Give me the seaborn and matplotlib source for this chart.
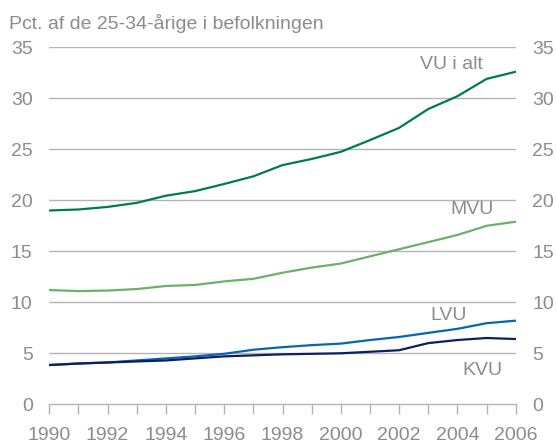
import matplotlib
matplotlib.use("Agg")
import matplotlib.pyplot as plt
import seaborn as sns
import pandas as pd
import numpy as np

years = list(range(1990, 2007))
vu_i_alt = [19.0, 19.1, 19.35, 19.75, 20.45, 20.9, 21.6, 22.35, 23.45, 24.05, 24.75, 25.9, 27.1, 28.95, 30.2, 31.9, 32.6]
mvu = [11.2, 11.1, 11.15, 11.3, 11.6, 11.7, 12.05, 12.3, 12.9, 13.4, 13.8, 14.5, 15.2, 15.9, 16.6, 17.5, 17.9]
lvu = [3.85, 4.0, 4.1, 4.3, 4.5, 4.7, 4.95, 5.35, 5.6, 5.8, 5.95, 6.3, 6.6, 7.0, 7.4, 7.95, 8.2]
kvu = [3.85, 4.0, 4.1, 4.2, 4.3, 4.5, 4.7, 4.8, 4.9, 4.95, 5.0, 5.15, 5.3, 6.0, 6.3, 6.5, 6.4]
series_names = ["VU i alt", "MVU", "LVU", "KVU"]
title = "Pct. af de 25-34-årige i befolkningen"

df = pd.DataFrame({
    "år": years * 4,
    "pct": vu_i_alt + mvu + lvu + kvu,
    "serie": sum([[n] * len(years) for n in series_names], []),
})

palette = {"VU i alt": "#007A55", "MVU": "#6DAF6B", "LVU": "#0765B5", "KVU": "#0D1F5E"}
text_col = "#8C8C8C"
grid_col = "#B4B4B4"

sns.set_theme(style="white")
plt.rcParams["font.family"] = ["Liberation Sans", "DejaVu Sans"]

fig = plt.figure(figsize=(5.56, 4.44), dpi=100)
ax = fig.add_axes([0.0887, 0.0894, 0.8388, 0.8041])

sns.lineplot(data=df, x="år", y="pct", hue="serie", palette=palette,
             linewidth=1.6, legend=False, ax=ax, sort=False)

ax.set_xlim(1990, 2006)
ax.set_ylim(0, 35)
ax.set_xlabel("")
ax.set_ylabel("")

yt = np.arange(0, 36, 5)
ax.set_yticks(yt)
ax.set_yticklabels([str(v) for v in yt])
ax.set_xticks(years, minor=True)
ax.set_xticks(years[::2])
ax.set_xticklabels([str(y) for y in years[::2]])

for v in yt[1:]:
    ax.axhline(v, color=grid_col, linewidth=1.0, zorder=0)

for s in ["top", "right", "left"]:
    ax.spines[s].set_visible(False)
ax.spines["bottom"].set_color(grid_col)
ax.spines["bottom"].set_linewidth(1.0)

ax.tick_params(axis="y", which="both", length=0, pad=12, labelsize=14,
               labelcolor=text_col, left=True, right=True, labelleft=True, labelright=True)
ax.tick_params(axis="x", which="both", direction="out", length=7, width=1.0,
               color=grid_col, pad=9, labelsize=14, labelcolor=text_col, bottom=True)

labels = {
    "VU i alt": (2003.8, 33.3),
    "MVU": (2004.5, 19.05),
    "LVU": (2003.7, 8.66),
    "KVU": (2004.85, 3.36),
}
for name, (lx, ly) in labels.items():
    ax.text(lx, ly, name, ha="center", va="center", fontsize=14, color=text_col)

fig.text(0.016, 0.946, title, ha="left", va="center", fontsize=14, color=text_col)

fig.savefig("out.png", dpi=100)
